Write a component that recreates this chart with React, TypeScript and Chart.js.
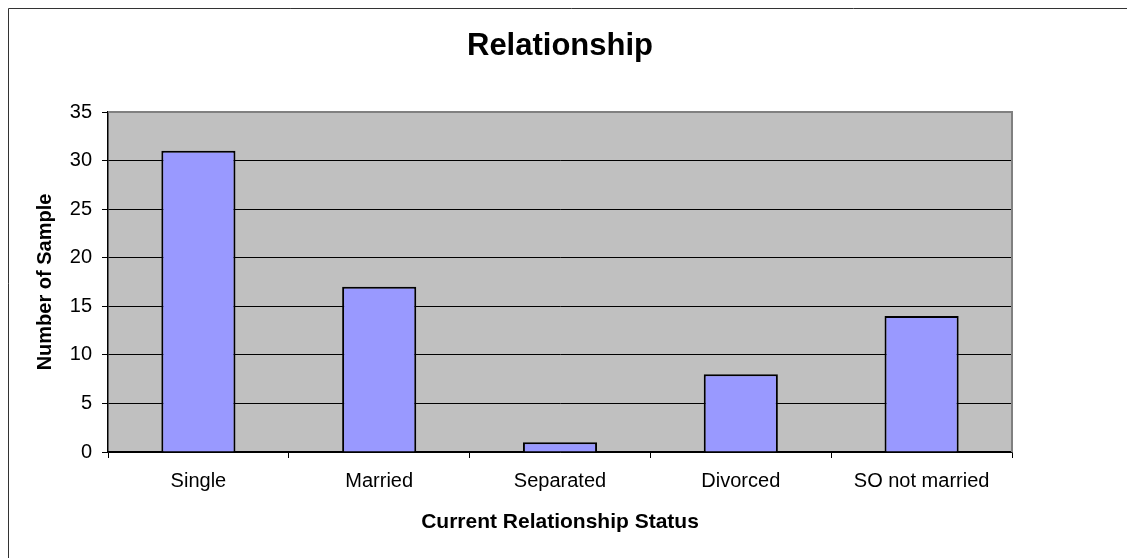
import React, { useEffect, useRef } from "react";
import { Chart, registerables } from "chart.js";

Chart.register(...registerables);

const categories = ["Single", "Married", "Separated", "Divorced", "SO not married"];
const sampleCounts = [31, 17, 1, 8, 14];
const yTicks = [0, 5, 10, 15, 20, 25, 30, 35];

const FONT = "'Liberation Sans', Arial, Helvetica, sans-serif";

const plotBgPlugin = {
  id: "plotBg",
  beforeDraw(chart: any) {
    const { ctx, chartArea } = chart;
    ctx.save();
    ctx.fillStyle = "#FFFFFF";
    ctx.fillRect(0, 0, chart.width, chart.height);
    ctx.fillStyle = "#C0C0C0";
    ctx.fillRect(chartArea.left, chartArea.top, chartArea.right - chartArea.left, chartArea.bottom - chartArea.top);
    ctx.restore();
  },
  afterDraw(chart: any) {
    const { ctx, chartArea } = chart;
    ctx.save();
    ctx.strokeStyle = "#808080";
    ctx.lineWidth = 2;
    ctx.beginPath();
    ctx.moveTo(chartArea.left, chartArea.top);
    ctx.lineTo(chartArea.right, chartArea.top);
    ctx.lineTo(chartArea.right, chartArea.bottom);
    ctx.stroke();
    ctx.strokeStyle = "#333333";
    ctx.lineWidth = 1;
    ctx.beginPath();
    ctx.moveTo(0.5, chart.height);
    ctx.lineTo(0.5, 0.5);
    ctx.lineTo(chart.width, 0.5);
    ctx.stroke();
    ctx.restore();
  },
};

export default function App() {
  const ref = useRef<HTMLCanvasElement | null>(null);

  useEffect(() => {
    document.documentElement.style.overflow = "hidden";
    document.body.style.overflow = "hidden";
    const canvas = ref.current;
    if (!canvas) return;
    const chart = new Chart(canvas, {
      type: "bar",
      data: {
        labels: categories,
        datasets: [
          {
            label: "Number of Sample",
            data: sampleCounts,
            backgroundColor: "#9999FF",
            borderColor: "#000000",
            borderWidth: 2,
            barPercentage: 0.41,
            categoryPercentage: 1,
          },
        ],
      },
      options: {
        responsive: false,
        animation: false,
        devicePixelRatio: 1,
        layout: { padding: { left: 0, right: 123, top: 0, bottom: 0 } },
        plugins: {
          legend: { display: false },
          tooltip: { enabled: false },
          title: {
            display: true,
            text: "Relationship",
            fullSize: false,
            color: "#000",
            font: { family: FONT, size: 31, weight: "bold", lineHeight: 1.2 },
            padding: { top: 20, bottom: 46.8 },
          },
        },
        scales: {
          x: {
            afterFit(scale: any) {
              scale.height = 106;
            },
            grid: {
              display: true,
              drawOnChartArea: false,
              drawTicks: true,
              tickLength: 6,
              color: "#000",
              tickColor: "#000",
              offset: true,
            },
            border: { display: true, color: "#000", width: 1.5 },
            ticks: {
              color: "#000",
              padding: 11,
              maxRotation: 0,
              autoSkip: false,
              font: { family: FONT, size: 20 },
            },
            title: {
              display: true,
              text: "Current Relationship Status",
              color: "#000",
              font: { family: FONT, size: 21, weight: "bold", lineHeight: 1.2 },
              padding: { top: 0, bottom: 23 },
            },
          },
          y: {
            min: 0,
            max: 35,
            afterFit(scale: any) {
              scale.width = 100;
            },
            afterBuildTicks(scale: any) {
              scale.ticks = yTicks.map((v) => ({ value: v }));
            },
            grid: {
              display: true,
              drawOnChartArea: true,
              drawTicks: true,
              tickLength: 6,
              color: "#000",
              tickColor: "#000",
              lineWidth: 1,
            },
            border: { display: true, color: "#000", width: 1.5 },
            ticks: {
              stepSize: 5,
              color: "#000",
              padding: 10,
              font: { family: FONT, size: 20 },
            },
            title: {
              display: true,
              text: "Number of Sample",
              color: "#000",
              font: { family: FONT, size: 20, weight: "bold", lineHeight: 1.2 },
              padding: { top: 25, bottom: 0 },
            },
          },
        },
      },
      plugins: [plotBgPlugin],
    });
    return () => chart.destroy();
  }, []);

  return (
    <canvas
      ref={ref}
      width={1127}
      height={550}
      style={{ display: "block", width: 1127, height: 550 }}
    />
  );
}
